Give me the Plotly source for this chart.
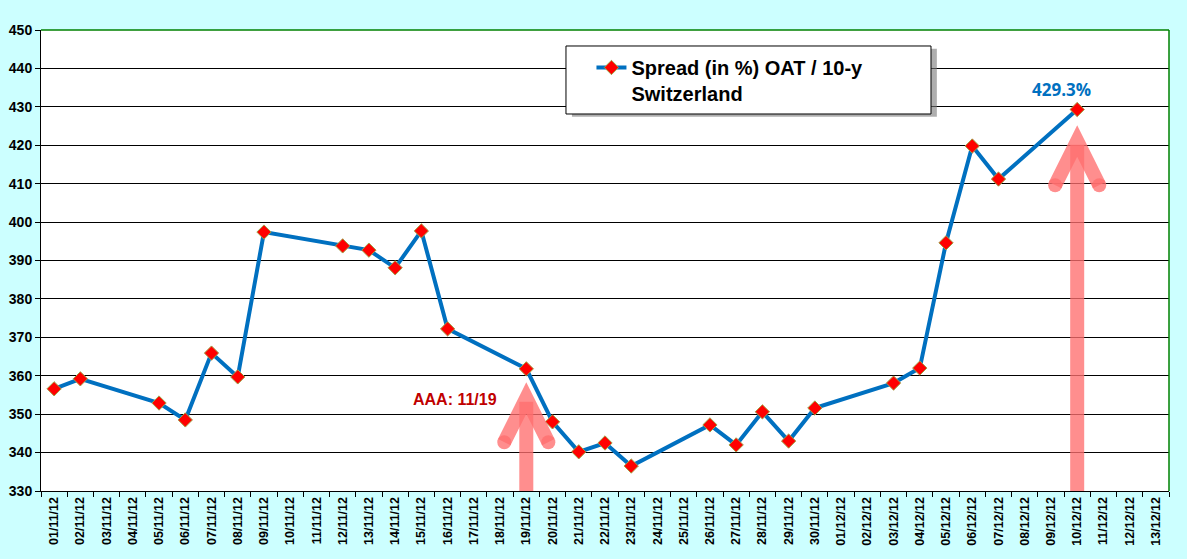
import plotly.graph_objects as go

# ---- data ----
all_dates = [
    "01/11/12", "02/11/12", "03/11/12", "04/11/12", "05/11/12", "06/11/12", "07/11/12",
    "08/11/12", "09/11/12", "10/11/12", "11/11/12", "12/11/12", "13/11/12", "14/11/12",
    "15/11/12", "16/11/12", "17/11/12", "18/11/12", "19/11/12", "20/11/12", "21/11/12",
    "22/11/12", "23/11/12", "24/11/12", "25/11/12", "26/11/12", "27/11/12", "28/11/12",
    "29/11/12", "30/11/12", "01/12/12", "02/12/12", "03/12/12", "04/12/12", "05/12/12",
    "06/12/12", "07/12/12", "08/12/12", "09/12/12", "10/12/12", "11/12/12", "12/12/12",
    "13/12/12",
]
obs_dates = [
    "01/11/12", "02/11/12", "05/11/12", "06/11/12", "07/11/12", "08/11/12", "09/11/12",
    "12/11/12", "13/11/12", "14/11/12", "15/11/12", "16/11/12", "19/11/12", "20/11/12",
    "21/11/12", "22/11/12", "23/11/12", "26/11/12", "27/11/12", "28/11/12", "29/11/12",
    "30/11/12", "03/12/12", "04/12/12", "05/12/12", "06/12/12", "07/12/12", "10/12/12",
]
spread = [
    356.6, 359.2, 352.9, 348.5, 365.9, 359.7, 397.4,
    393.8, 392.7, 388.1, 397.7, 372.2, 361.8, 348.0,
    340.2, 342.5, 336.5, 347.2, 342.0, 350.6, 343.0,
    351.6, 358.1, 362.0, 394.6, 419.8, 411.2, 429.3,
]
series_name = "Spread (in %) OAT / 10-y<br>Switzerland"
y_min, y_max, y_step = 330, 450, 10
aaa_date = "19/11/12"
last_date = "10/12/12"

FONT = "Liberation Sans"
ARROW = "rgba(255,110,110,0.78)"

fig = go.Figure()
fig.add_trace(go.Scatter(
    x=obs_dates, y=spread, mode="lines+markers", name=series_name,
    line=dict(color="#0070C0", width=4),
    marker=dict(symbol="diamond", size=11, color="#FF0000",
                line=dict(color="rgb(160,160,70)", width=1)),
))

shapes = []


def arrow(date, tip_val):
    xi = all_dates.index(date)
    arm_dx = 0.84
    arm_dy = 11.5
    base = y_min
    w = 14
    shapes.append(dict(type="line", xref="x", yref="y", x0=xi, x1=xi, y0=base, y1=tip_val - 1.0,
                       line=dict(color=ARROW, width=w), layer="above"))
    shapes.append(dict(type="path", xref="x", yref="y",
                       path=f"M {xi-arm_dx},{tip_val-arm_dy} L {xi},{tip_val} L {xi+arm_dx},{tip_val-arm_dy}",
                       line=dict(color=ARROW, width=w), layer="above"))
    # rounded caps at the arm ends
    for sx in (-1, 1):
        shapes.append(dict(type="circle", xref="x", yref="y", xsizemode="pixel", ysizemode="pixel",
                           xanchor=xi + sx * arm_dx, yanchor=tip_val - arm_dy,
                           x0=-w / 2, x1=w / 2, y0=-w / 2, y1=w / 2,
                           fillcolor=ARROW, line=dict(width=0), layer="above"))


arrow(aaa_date, spread[obs_dates.index(aaa_date)] - 7.6)
arrow(last_date, spread[obs_dates.index(last_date)] - 8.2)

# legend box with shadow
shapes.append(dict(type="rect", xref="paper", yref="paper", x0=0.4707, x1=0.7942, y0=0.8118, y1=0.9593,
                   fillcolor="rgba(120,120,120,0.6)", line=dict(width=0), layer="above"))
shapes.append(dict(type="rect", xref="paper", yref="paper", x0=0.4654, x1=0.7890, y0=0.8178, y1=0.9653,
                   fillcolor="white", line=dict(color="black", width=1), layer="above"))
# green top & right border
shapes.append(dict(type="line", xref="paper", yref="paper", x0=0, x1=1, y0=1, y1=1,
                   line=dict(color="#008000", width=1.5), layer="above"))
shapes.append(dict(type="line", xref="paper", yref="paper", x0=1, x1=1, y0=0, y1=1,
                   line=dict(color="#008000", width=1.5), layer="above"))

annotations = [
    dict(x=all_dates.index(aaa_date) - 2.72, y=353.8, xref="x", yref="y", text="AAA: 11/19",
         showarrow=False, font=dict(family=FONT, size=16, color="#C00000", weight="bold")),
    dict(x=all_dates.index(last_date) - 0.6, y=431.0, xref="x", yref="y", text="429.3%",
         showarrow=False, font=dict(family="Open Sans", size=17, color="#0070C0", weight="bold"),
         yanchor="bottom"),
]

fig.update_layout(
    width=1187, height=559,
    margin=dict(l=41, r=18, t=30, b=68, autoexpand=False),
    paper_bgcolor="#CCFFFF", plot_bgcolor="white",
    font=dict(family=FONT, color="black"),
    showlegend=True,
    legend=dict(x=0.488, y=0.961, xanchor="left", yanchor="top", bgcolor="rgba(0,0,0,0)",
                borderwidth=0, valign="top",
                font=dict(family=FONT, size=20, color="black", weight="bold")),
    shapes=shapes, annotations=annotations,
)
fig.update_xaxes(
    type="category", categoryorder="array", categoryarray=all_dates,
    range=[-0.5, len(all_dates) - 0.5], automargin=False,
    tickmode="array", tickvals=all_dates, ticktext=all_dates,
    tickangle=-90, tickfont=dict(family=FONT, size=12.5, color="black", weight="bold"),
    ticks="outside", ticklen=5, tickcolor="black", tickson="boundaries",
    showline=True, linecolor="black", linewidth=1, showgrid=False, zeroline=False,
)
fig.update_yaxes(
    range=[y_min, y_max], dtick=y_step, tick0=y_min, automargin=False,
    tickfont=dict(family=FONT, size=14, color="black", weight="bold"),
    ticks="outside", ticklen=5, tickcolor="black",
    showline=True, linecolor="black", linewidth=1,
    showgrid=True, gridcolor="black", gridwidth=1, zeroline=False,
)

fig.write_html(
    "out.html",
    config={"displayModeBar": False},
    post_script="document.body.style.margin='0';document.body.style.overflow='hidden';"
                "document.body.style.background='#CCFFFF';",
)
